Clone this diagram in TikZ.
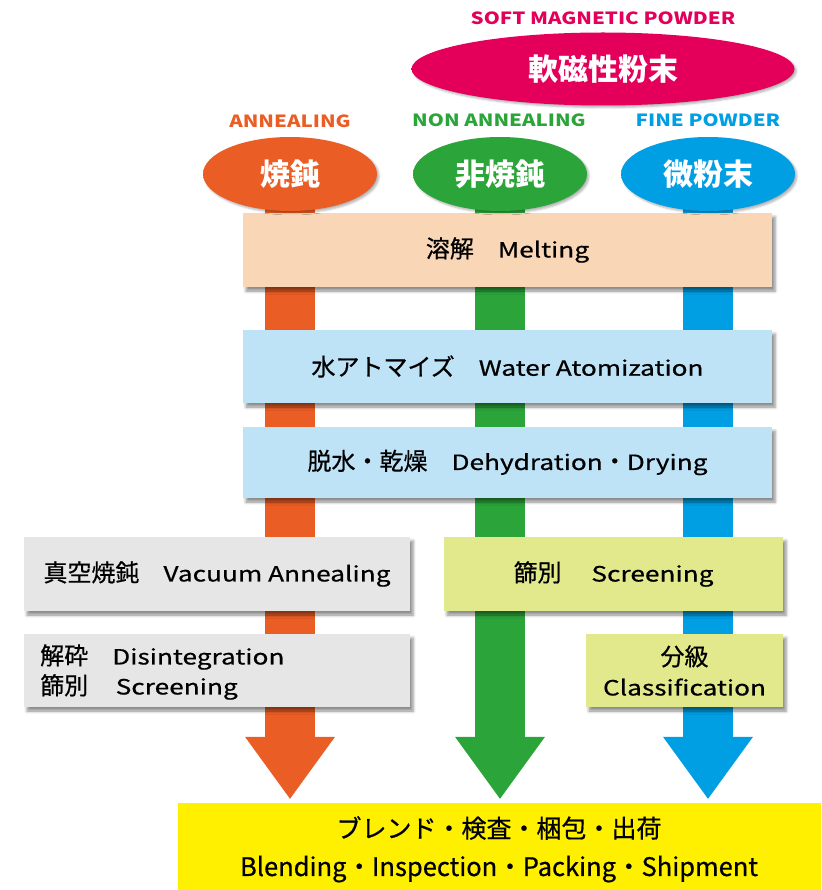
\documentclass[tikz,border=0pt]{standalone}
\usepackage{fontspec}
\setmainfont{Noto Sans CJK JP}
\newfontfamily\cjkm{Noto Sans CJK JP}[FakeBold=0.6]
\newfontfamily\latf{Noto Sans CJK JP}[FakeStretch=1.25, FakeBold=0.6]
\newfontfamily\labf{Noto Sans CJK JP}[FakeStretch=1.22]
\usetikzlibrary{calc,shapes.geometric,shadows.blur}
\definecolor{mag}{HTML}{E4005A}
\definecolor{magD}{HTML}{7E0032}
\definecolor{orc}{HTML}{EA5D24}
\definecolor{orD}{HTML}{8E3510}
\definecolor{grc}{HTML}{2BA53A}
\definecolor{grD}{HTML}{135A20}
\definecolor{blc}{HTML}{009FE3}
\definecolor{blD}{HTML}{005F8E}
\definecolor{peach}{HTML}{F9D6B6}
\definecolor{lblue}{HTML}{BEE3F6}
\definecolor{lgray}{HTML}{E6E6E6}
\definecolor{ygreen}{HTML}{E2E88C}
\definecolor{yel}{HTML}{FFF000}
\pgfdeclareradialshading{shMag}{\pgfpoint{0bp}{6bp}}{color(0bp)=(mag);color(36bp)=(mag);color(47bp)=(magD);color(56bp)=(magD)}
\pgfdeclareradialshading{shOr}{\pgfpoint{0bp}{6bp}}{color(0bp)=(orc);color(36bp)=(orc);color(47bp)=(orD);color(56bp)=(orD)}
\pgfdeclareradialshading{shGr}{\pgfpoint{0bp}{6bp}}{color(0bp)=(grc);color(36bp)=(grc);color(47bp)=(grD);color(56bp)=(grD)}
\pgfdeclareradialshading{shBl}{\pgfpoint{0bp}{6bp}}{color(0bp)=(blc);color(36bp)=(blc);color(47bp)=(blD);color(56bp)=(blD)}
\newcommand\latx[1]{{\latf\fontsize{21}{24}\selectfont #1}}
\begin{document}
\begin{tikzpicture}[x=1pt,y=-1pt,
  stepbox/.style={rectangle, inner sep=0pt, outer sep=0pt,
    font=\cjkm\fontsize{24}{30}\selectfont,
    blur shadow={shadow xshift=3pt, shadow yshift=-4pt, shadow blur radius=3pt, shadow opacity=45}},
  ovalbox/.style={ellipse, inner sep=0pt, outer sep=0pt, text=white,
    minimum width=174pt, minimum height=74pt,
    font=\bfseries\fontsize{30}{34}\selectfont,
    blur shadow={shadow xshift=2pt, shadow yshift=-2pt, shadow blur radius=2pt, shadow opacity=30}},
  toplabel/.style={font=\labf\bfseries\fontsize{16.8}{20}\selectfont, inner sep=0pt}]
\useasboundingbox (0,0) rectangle (821,890);

% category labels
\node[toplabel, text=mag] (magL) at (603,18) {SOFT MAGNETIC POWDER};
\node[toplabel, text=orc] (annL) at (290,121) {ANNEALING};
\node[toplabel, text=grc] (nonL) at (499,120) {NON ANNEALING};
\node[toplabel, text=blc] (fineL) at (708,120) {FINE POWDER};

% final box (placed first so arrows can refer to it)
\node[rectangle, fill=yel, inner sep=0pt, minimum width=643pt, minimum height=87pt] (fin) at (499.5,846.5) {};
\node[font=\cjkm\fontsize{25}{30}\selectfont, inner sep=0pt] (fin1) at (499,828) {ブレンド・検査・梱包・出荷};
\node[font=\cjkm\fontsize{25.5}{30}\selectfont, inner sep=0pt] (fin2) at (499,869) {Blending・Inspection・Packing・Shipment};

% ellipse positions (coordinates for the arrows)
\coordinate (annC) at (290,174);
\coordinate (nonC) at (500,174);
\coordinate (fineC) at (708,174);

% arrows
\foreach \c/\col in {annC/orc, nonC/grc, fineC/blc}{
  \fill[\col] ($(\c)+(-25,0)$) rectangle ($(\c |- fin.north)+(25,-65)$);
  \fill[\col] ($(\c |- fin.north)+(-45,-66)$) -- ($(\c |- fin.north)+(45,-66)$) -- ($(\c |- fin.north)+(0,-4)$) -- cycle;
}

% process boxes
\node[stepbox, fill=peach, minimum width=529pt, minimum height=74pt] (melt) at (507.5,250) {溶解　\latx{Melting}};
\node[stepbox, fill=lblue, minimum width=529pt, minimum height=73pt] (water) at (507.5,366.5) {水アトマイズ　\latx{Water Atomization}};
\node[stepbox, fill=lblue, minimum width=529pt, minimum height=71pt] (dehyd) at (507.5,462.5) {脱水・乾燥　\latx{Dehydration}・\latx{Drying}};
\node[stepbox, fill=lgray, minimum width=386pt, minimum height=74pt] (vac) at (217,574) {真空焼鈍　\latx{Vacuum Annealing}};
\node[stepbox, fill=lgray, minimum width=386pt, minimum height=73pt] (dis) at (217,670.5) {};
\node[anchor=west, align=left, inner sep=0pt, font=\cjkm\fontsize{24}{30}\selectfont] (disT) at (40,672) {解砕　\latx{Disintegration}\\篩別　\latx{\,Screening}};
\node[stepbox, fill=ygreen, minimum width=339pt, minimum height=74pt] (scr) at (613.5,574) {篩別　\latx{\ Screening}};
\node[stepbox, fill=ygreen, minimum width=197pt, minimum height=73pt, align=center] (cls) at (684.5,670.5) {分級\\\latx{Classification}};

% ellipses
\node[ellipse, inner sep=0pt, text=white, minimum width=383pt, minimum height=73pt,
  font=\bfseries\fontsize{30}{34}\selectfont, shading=shMag,
  blur shadow={shadow xshift=2pt, shadow yshift=-2pt, shadow blur radius=2pt, shadow opacity=30}] (magE) at (603,69) {軟磁性粉末};
\node[ovalbox, shading=shOr] (annE) at (annC) {焼鈍};
\node[ovalbox, shading=shGr] (nonE) at (nonC) {非焼鈍};
\node[ovalbox, shading=shBl] (fineE) at (fineC) {微粉末};
\end{tikzpicture}
\end{document}
